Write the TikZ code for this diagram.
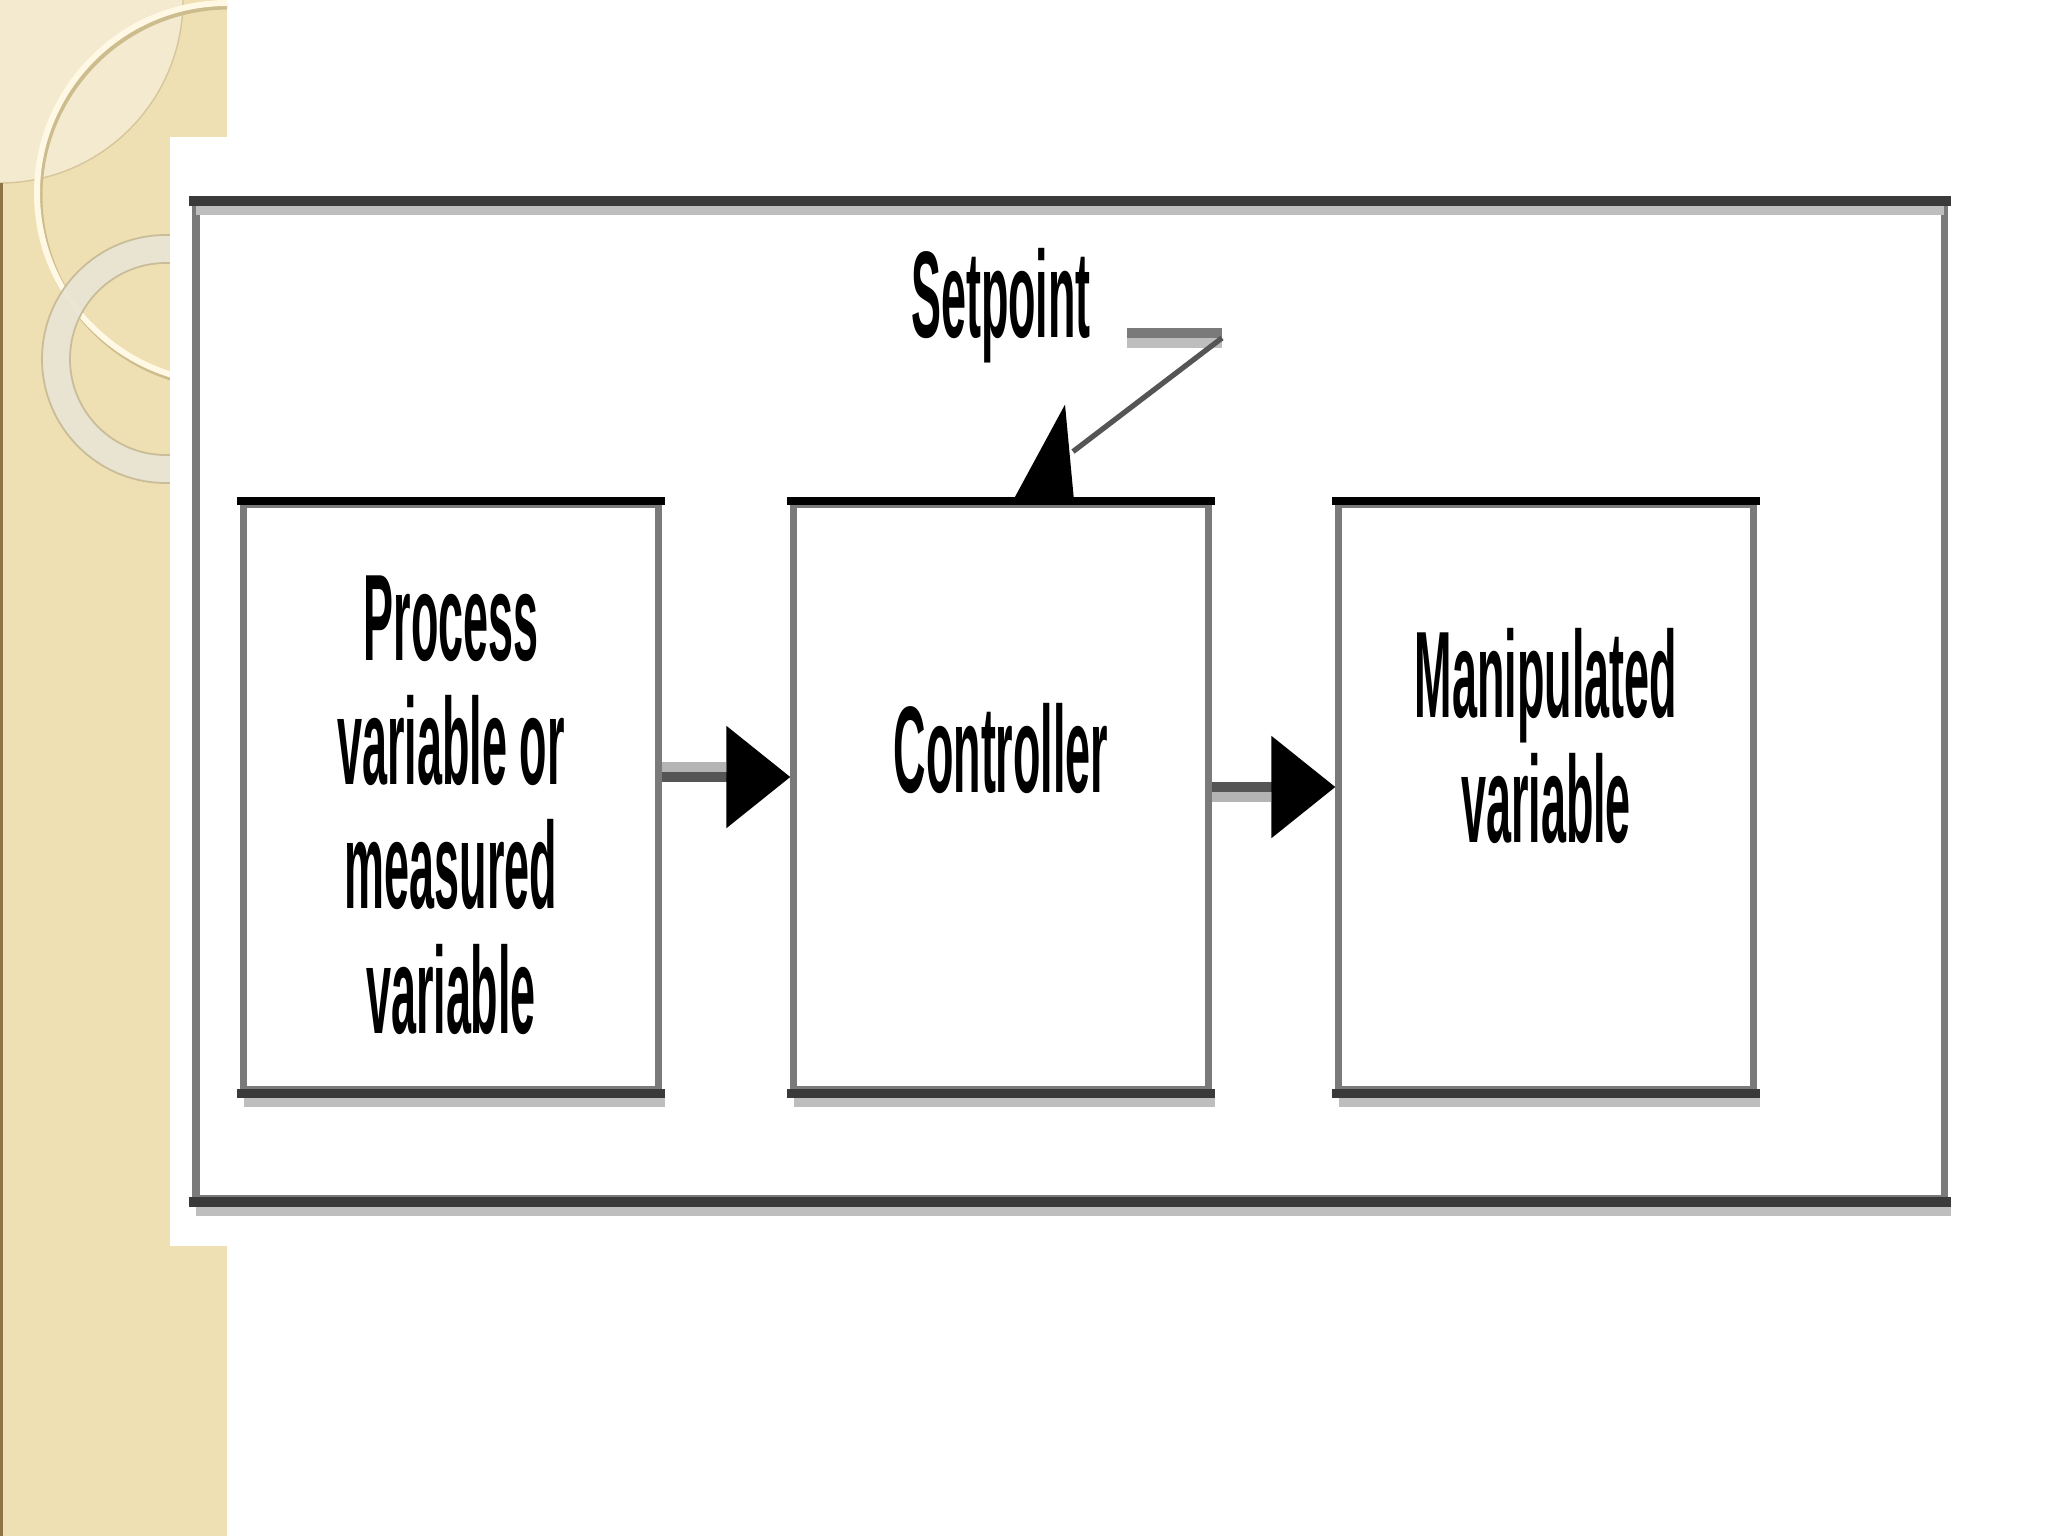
\documentclass[tikz,border=0pt]{standalone}
\usepackage{fontspec}
\usetikzlibrary{arrows.meta,calc}
\newfontfamily\diagfont{Liberation Sans Bold}[FakeStretch=0.365]
\definecolor{beige}{HTML}{EFE0B3}
\definecolor{cornerlight}{HTML}{F4EAD0}
\definecolor{cornerline}{HTML}{D6C69C}
\definecolor{ringcream}{HTML}{FFF8E4}
\definecolor{ringshade}{HTML}{CDBD8E}
\definecolor{ringgrey}{HTML}{E9E4D4}
\definecolor{ringedge}{HTML}{C9BC98}
\definecolor{edgebrown}{HTML}{8C7444}
\definecolor{framedark}{HTML}{3A3A3A}
\definecolor{sidegray}{HTML}{7A7A7A}
\definecolor{shadowgray}{HTML}{BEBEBE}
\definecolor{arrdark}{HTML}{555555}
\definecolor{arrlight}{HTML}{B4B4B4}
\tikzset{
  framebox/.style={draw=sidegray, line width=2pt, inner sep=0pt, minimum width=17.47cm, minimum height=9.94cm},
  procbox/.style={draw=sidegray, line width=2pt, inner sep=0pt, fill=white, minimum width=4.14cm, minimum height=5.855cm},
  topline/.style={draw=black, line width=2.3pt},
  botline/.style={draw=framedark, line width=2.6pt},
  frameline/.style={draw=framedark, line width=2.85pt},
  shadowline/.style={draw=shadowgray, line width=2.6pt},
  lbl/.style={font=\diagfont\fontsize{35pt}{35.3pt}\selectfont, inner sep=0pt, align=center},
  darkarrow/.style={draw=arrdark, line width=2.85pt, -{Triangle[length=0.64cm,width=1cm,color=black]}},
  lightline/.style={draw=arrlight, line width=2.85pt},
  spdark/.style={draw=sidegray, line width=2.85pt},
  splight/.style={draw=shadowgray, line width=2.85pt},
  diagline/.style={draw=arrdark, line width=1.5pt},
}
\begin{document}
\begin{tikzpicture}[x=0.01cm,y=-0.01cm]
\useasboundingbox (0,0) rectangle (2048,1536);
\fill[white] (0,0) rectangle (2048,1536);
% decorative left strip
\begin{scope}
  \clip (0,0) rectangle (227,1536);
  \fill[beige] (0,0) rectangle (227,1536);
  \fill[cornerlight] (0,0) circle[radius=183];
  \draw[cornerline, line width=0.4pt] (0,0) circle[radius=183];
  \draw[ringshade, line width=2pt] (229,196) circle[radius=190];
  \draw[ringcream, line width=1.7pt] (227,193) circle[radius=190];
  \draw[ringgrey, line width=8pt, opacity=0.92] (166,359) circle[radius=110];
  \draw[ringedge, line width=0.5pt] (166,359) circle[radius=124];
  \draw[ringedge, line width=0.5pt] (166,359) circle[radius=96];
  \draw[edgebrown, line width=0.9pt] (1.5,183) -- (1.5,1536);
\end{scope}
\fill[white] (170,137) rectangle (2048,1246);
% outer frame
\node[framebox] (frame) at (1070,701.5) {};
\draw[shadowline] ($(frame.north west)+(4,10)$) -- ($(frame.north east)+(-4,10)$);
\draw[shadowline] ($(frame.south west)+(4,9.5)$) -- ($(frame.south east)+(3.5,9.5)$);
\draw[frameline] ($(frame.north west)+(-3.5,0)$) -- ($(frame.north east)+(3.5,0)$);
\draw[frameline] ($(frame.south west)+(-3.5,0)$) -- ($(frame.south east)+(3.5,0)$);
% boxes
\node[procbox] (b1) at (451,797) {};
\node[procbox] (b2) at (1001,797) {};
\node[procbox] (b3) at (1546,797) {};
\foreach \b in {b1,b2,b3}{
  \draw[shadowline] ($(\b.south west)+(4,9)$) -- ($(\b.south east)+(3.5,9)$);
  \draw[topline] ($(\b.north west)+(-3.5,0)$) -- ($(\b.north east)+(3.5,0)$);
  \draw[botline] ($(\b.south west)+(-3.5,0)$) -- ($(\b.south east)+(3.5,0)$);
}
% labels (base anchor of a multi-line node = baseline of its last line)
\node[lbl, anchor=base] (t1) at ($(b1.center)+(0,236)$) {Process\\variable or\\measured\\variable};
\node[lbl, anchor=base] (t2) at ($(b2.center)+(0,-5)$) {Controller};
\node[lbl, anchor=base] (t3) at ($(b3.center)+(0,45)$) {Manipulated\\variable};
\node[lbl, anchor=base] (sp) at (1001,337) {Setpoint};
% arrows between boxes
\draw[lightline] ($(b1.east)+(0,-30)$) -- ($(b2.west)+(-64,-30)$);
\draw[darkarrow] ($(b1.east)+(0,-20)$) -- ($(b2.west)+(0,-20)$);
\draw[lightline] ($(b2.east)+(0,0)$) -- ($(b3.west)+(-64,0)$);
\draw[darkarrow] ($(b2.east)+(0,-10)$) -- ($(b3.west)+(0,-10)$);
% setpoint connector
\coordinate (spL) at (1127,338);
\coordinate (spR) at (1222,338);
\draw[splight] ($(spL)+(0,5)$) -- ($(spR)+(0,5)$);
\draw[spdark] ($(spL)+(0,-5)$) -- ($(spR)+(0,-5)$);
\draw[diagline] (spR) -- ($(b2.north)+(72,-49)$);
\fill[black] ($(b2.north)+(12,0)$) -- ($(b2.north)+(73,0)$) -- ($(b2.north)+(64,-96)$) -- cycle;
\end{tikzpicture}
\end{document}
